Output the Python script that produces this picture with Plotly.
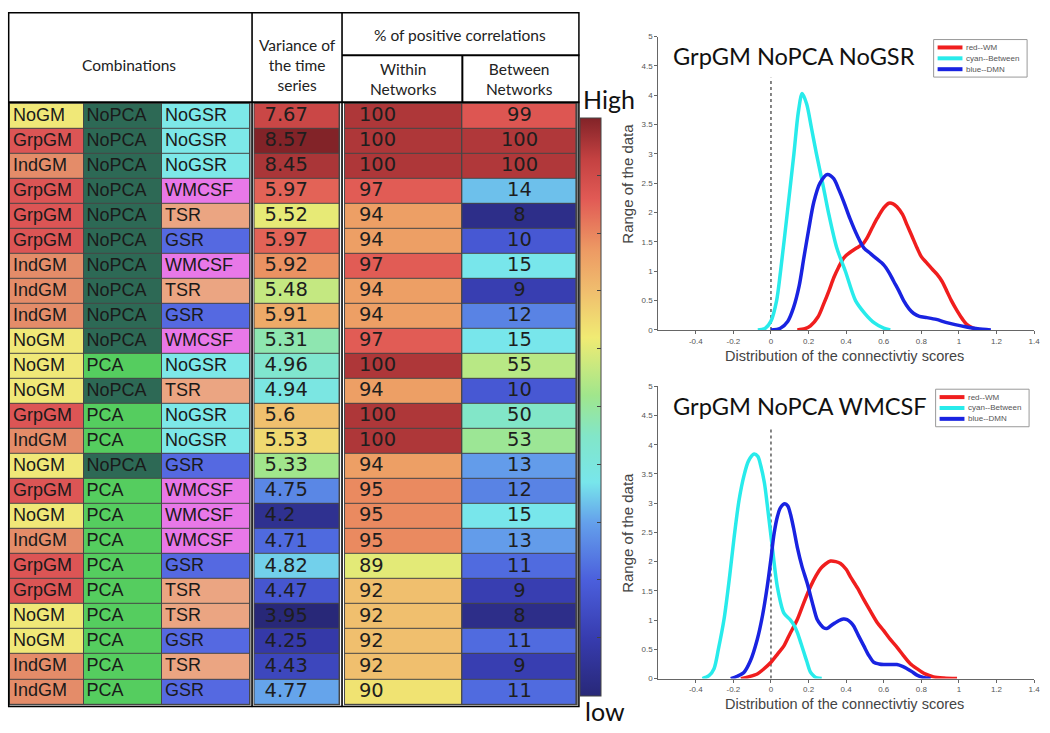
import numpy as np
import pandas as pd
import plotly.graph_objects as go

# ---------------- table data ----------------
gm = ["NoGM", "GrpGM", "IndGM", "GrpGM", "GrpGM", "GrpGM", "IndGM", "IndGM", "IndGM", "NoGM", "NoGM", "NoGM",
      "GrpGM", "IndGM", "NoGM", "GrpGM", "NoGM", "IndGM", "GrpGM", "GrpGM", "NoGM", "NoGM", "IndGM", "IndGM"]
pca = ["NoPCA", "NoPCA", "NoPCA", "NoPCA", "NoPCA", "NoPCA", "NoPCA", "NoPCA", "NoPCA", "NoPCA", "PCA", "NoPCA",
       "PCA", "PCA", "NoPCA", "PCA", "PCA", "PCA", "PCA", "PCA", "PCA", "PCA", "PCA", "PCA"]
gsr = ["NoGSR", "NoGSR", "NoGSR", "WMCSF", "TSR", "GSR", "WMCSF", "TSR", "GSR", "WMCSF", "NoGSR", "TSR",
       "NoGSR", "NoGSR", "GSR", "WMCSF", "WMCSF", "WMCSF", "GSR", "TSR", "TSR", "GSR", "TSR", "GSR"]
variance = [7.67, 8.57, 8.45, 5.97, 5.52, 5.97, 5.92, 5.48, 5.91, 5.31, 4.96, 4.94,
            5.6, 5.53, 5.33, 4.75, 4.2, 4.71, 4.82, 4.47, 3.95, 4.25, 4.43, 4.77]
within = [100, 100, 100, 97, 94, 94, 97, 94, 94, 97, 100, 94,
          100, 100, 94, 95, 95, 95, 89, 92, 92, 92, 92, 90]
between = [99, 100, 100, 14, 8, 10, 15, 9, 12, 15, 55, 10,
           50, 53, 13, 12, 15, 13, 11, 9, 8, 11, 9, 11]

# ---------------- density curves ----------------
# top panel: GrpGM NoPCA NoGSR
t_red_x = [0.14, 0.18, 0.21, 0.25, 0.28, 0.31, 0.334, 0.36, 0.388, 0.42, 0.458, 0.49, 0.51, 0.54, 0.565, 0.6, 0.627,
           0.65, 0.67, 0.7, 0.724, 0.75, 0.777, 0.8, 0.83, 0.86, 0.883, 0.91, 0.936, 0.96, 0.99, 1.02, 1.04, 1.07, 1.11]
t_red_y = [0, 0.02, 0.07, 0.22, 0.44, 0.68, 0.89, 1.07, 1.23, 1.32, 1.4, 1.47, 1.56, 1.75, 1.9, 2.08, 2.16,
           2.15, 2.1, 1.97, 1.79, 1.6, 1.4, 1.25, 1.14, 1.03, 0.95, 0.83, 0.66, 0.5, 0.33, 0.18, 0.1, 0.04, 0]
t_cyan_x = [-0.07, -0.03, 0.0, 0.03, 0.051, 0.087, 0.122, 0.145, 0.166, 0.19, 0.215, 0.242, 0.275, 0.306,
            0.35, 0.396, 0.45, 0.5, 0.55, 0.6, 0.635]
t_cyan_y = [0, 0.03, 0.15, 0.5, 1.0, 2.0, 3.0, 3.7, 4.03, 3.85, 3.45, 3.0, 2.5, 2.0,
            1.4, 1.0, 0.5, 0.28, 0.12, 0.03, 0]
t_blue_x = [0.0, 0.05, 0.09, 0.12, 0.15, 0.175, 0.2, 0.228, 0.26, 0.3, 0.334, 0.36, 0.388, 0.42, 0.46, 0.494, 0.53,
            0.56, 0.6, 0.63, 0.653, 0.68, 0.706, 0.735, 0.76, 0.79, 0.83, 0.88, 0.93, 0.98, 1.04, 1.1, 1.17]
t_blue_y = [0, 0.03, 0.15, 0.38, 0.75, 1.23, 1.7, 2.18, 2.5, 2.65, 2.58, 2.4, 2.18, 1.9, 1.6, 1.4, 1.3,
            1.22, 1.11, 0.97, 0.83, 0.67, 0.5, 0.36, 0.28, 0.23, 0.21, 0.18, 0.13, 0.09, 0.05, 0.02, 0]

# bottom panel: GrpGM NoPCA WMCSF
b_red_x = [-0.16, -0.12, -0.073, -0.04, 0.0, 0.035, 0.069, 0.1, 0.14, 0.175, 0.21, 0.24, 0.264, 0.29, 0.317, 0.345,
           0.37, 0.4, 0.423, 0.46, 0.494, 0.53, 0.565, 0.6, 0.635, 0.67, 0.706, 0.74, 0.777, 0.82, 0.865, 0.92, 0.99]
b_red_y = [0, 0.03, 0.08, 0.16, 0.28, 0.42, 0.56, 0.76, 1.01, 1.3, 1.57, 1.76, 1.88, 1.96, 2.01, 2.0,
           1.97, 1.87, 1.74, 1.55, 1.35, 1.15, 0.96, 0.82, 0.67, 0.54, 0.39, 0.26, 0.17, 0.08, 0.03, 0.01, 0]
b_cyan_x = [-0.365, -0.33, -0.303, -0.28, -0.25, -0.22, -0.196, -0.17, -0.143, -0.12, -0.09, -0.07, -0.055, -0.035,
            -0.02, 0.007, 0.034, 0.069, 0.104, 0.125, 0.14, 0.16, 0.175, 0.19, 0.21, 0.23, 0.246, 0.27]
b_cyan_y = [0, 0.05, 0.17, 0.5, 1.01, 1.75, 2.42, 3.05, 3.48, 3.72, 3.84, 3.8, 3.65, 3.35,
            2.98, 2.25, 1.57, 1.12, 1.0, 0.9, 0.79, 0.6, 0.45, 0.3, 0.11, 0.04, 0.01, 0]
b_blue_x = [-0.214, -0.18, -0.143, -0.11, -0.073, -0.045, -0.02, 0.0, 0.016, 0.035, 0.05, 0.074, 0.09, 0.104, 0.12,
            0.14, 0.165, 0.193, 0.22, 0.246, 0.265, 0.28, 0.3, 0.317, 0.34, 0.36, 0.385, 0.405, 0.425, 0.44, 0.465,
            0.494, 0.52, 0.547, 0.575, 0.6, 0.635, 0.67, 0.7, 0.724, 0.75, 0.777, 0.81, 0.85]
b_blue_y = [0, 0.04, 0.11, 0.3, 0.67, 1.08, 1.57, 2.05, 2.47, 2.78, 2.92, 2.99, 2.95, 2.81, 2.58,
            2.25, 1.92, 1.63, 1.3, 1.01, 0.92, 0.87, 0.86, 0.9, 0.95, 0.99, 1.02, 1.01, 0.96, 0.9, 0.74,
            0.56, 0.4, 0.28, 0.25, 0.24, 0.24, 0.24, 0.21, 0.17, 0.12, 0.06, 0.02, 0]
zero_line_top = 4.3

legend_names = ["red--WM", "cyan--Between", "blue--DMN"]
panel_titles = ["GrpGM NoPCA NoGSR", "GrpGM NoPCA WMCSF"]

# ---------------- styling ----------------
W, H = 1050, 733


def fx(p):
    return p / W


def fy(p):
    return 1 - p / H


jet = [[0.00, "rgb(40,40,120)"], [0.10, "rgb(55,60,175)"], [0.20, "rgb(75,95,220)"],
       [0.30, "rgb(100,160,235)"], [0.37, "rgb(120,230,235)"], [0.45, "rgb(130,230,200)"],
       [0.52, "rgb(160,230,140)"], [0.62, "rgb(240,235,115)"], [0.70, "rgb(240,190,110)"],
       [0.77, "rgb(237,155,100)"], [0.86, "rgb(225,90,85)"], [0.93, "rgb(195,65,65)"],
       [1.00, "rgb(130,35,40)"]]

cat_order = ["NoGM", "GrpGM", "IndGM", "NoPCA", "PCA", "NoGSR", "WMCSF", "TSR", "GSR"]
cat_colors = ["rgb(240,232,120)", "rgb(220,85,85)", "rgb(228,140,105)", "rgb(45,105,85)", "rgb(85,205,95)",
              "rgb(125,232,232)", "rgb(232,120,232)", "rgb(235,165,130)", "rgb(85,105,225)"]
cat_scale = []
for i, c in enumerate(cat_colors):
    cat_scale += [[i / len(cat_colors), c], [(i + 1) / len(cat_colors), c]]

# table geometry (pixel units on the table axes)
n = len(gm)
row_top, row_bot = 101, 709
row_edges = list(np.linspace(row_top, row_bot, n + 1))
row_mid = [(a + b) / 2 for a, b in zip(row_edges[:-1], row_edges[1:])]
cat_edges = [10, 84, 163, 251]
var_edges = [256, 341]
win_edges = [347, 465]
btw_edges = [465, 580]

# colour levels for numeric columns
var_lvl = ((pd.Series(variance).rank(method="average") - 1) / (n - 1)).tolist()
win_lvl = [(v - 70) / 31.5 for v in within]
btw_lvl = list(np.interp(between, [8, 10, 15, 50, 55, 99, 100], [0.03, 0.18, 0.37, 0.45, 0.55, 0.87, 0.95]))

fig = go.Figure()

cat_z = [[cat_order.index(a), cat_order.index(b), cat_order.index(c)] for a, b, c in zip(gm, pca, gsr)]
fig.add_trace(go.Heatmap(x=cat_edges, y=row_edges, z=cat_z, colorscale=cat_scale, zmin=-0.5, zmax=8.5,
                         showscale=False, xgap=1, ygap=1, hoverinfo="skip"))
for edges, lvl in [(var_edges, var_lvl), (win_edges, win_lvl), (btw_edges, btw_lvl)]:
    fig.add_trace(go.Heatmap(x=edges, y=row_edges, z=[[v] for v in lvl], coloraxis="coloraxis",
                             xgap=1, ygap=1, hoverinfo="skip"))

cat_font = dict(family="Liberation Sans, Arial", size=18, color="#1a1a1a")
num_font = dict(family="DejaVu Sans", size=19.5, color="#1e1e1e")
for col, left in zip([gm, pca, gsr], cat_edges[:-1]):
    fig.add_trace(go.Scatter(x=[left + 3] * n, y=row_mid, text=col, mode="text", textposition="middle right",
                             textfont=cat_font, cliponaxis=False, hoverinfo="skip", showlegend=False))
fig.add_trace(go.Scatter(x=[var_edges[0] + 10] * n, y=row_mid, text=[str(v) for v in variance], mode="text",
                         textposition="middle right", textfont=num_font, cliponaxis=False,
                         hoverinfo="skip", showlegend=False))
fig.add_trace(go.Scatter(x=[win_edges[0] + 14] * n, y=row_mid, text=[str(v) for v in within], mode="text",
                         textposition="middle right", textfont=num_font, cliponaxis=False,
                         hoverinfo="skip", showlegend=False))
fig.add_trace(go.Scatter(x=[(btw_edges[0] + btw_edges[1]) / 2] * n, y=row_mid, text=[str(v) for v in between],
                         mode="text", textposition="middle center", textfont=num_font, cliponaxis=False,
                         hoverinfo="skip", showlegend=False))

# ---------------- density panels ----------------
line_colors = ["rgb(240,30,30)", "rgb(40,235,235)", "rgb(25,35,225)"]
panels = [
    ("x2", "y2", [(t_red_x, t_red_y), (t_cyan_x, t_cyan_y), (t_blue_x, t_blue_y)]),
    ("x3", "y3", [(b_red_x, b_red_y), (b_cyan_x, b_cyan_y), (b_blue_x, b_blue_y)]),
]
for xa, ya, curves in panels:
    fig.add_trace(go.Scatter(x=[0, 0], y=[0, zero_line_top], mode="lines", xaxis=xa, yaxis=ya,
                             line=dict(color="#666", width=1.6, dash="dot"), showlegend=False, hoverinfo="skip"))
    for (cx, cy), name, c in zip(curves, legend_names, line_colors):
        fig.add_trace(go.Scatter(x=cx, y=cy, name=name, mode="lines", xaxis=xa, yaxis=ya, showlegend=False,
                                 line=dict(color=c, width=3.5, shape="spline", smoothing=0.8)))

xtick_vals = [-0.4, -0.2, 0, 0.2, 0.4, 0.6, 0.8, 1, 1.2, 1.4]
xtick_text = ["-0.4", "-0.2", "0", "0.2", "0.4", "0.6", "0.8", "1", "1.2", "1.4"]
ytick_vals = [0, 0.5, 1, 1.5, 2, 2.5, 3, 3.5, 4, 4.5, 5]
axis_style = dict(showline=True, linecolor="#666", linewidth=1, ticks="outside", ticklen=3, tickcolor="#666",
                  showgrid=False, zeroline=False, ticklabeloverflow="allow",
                  tickfont=dict(family="Liberation Sans, Arial", size=8, color="#555"))

top_px = [(33, 330), (387, 683)]
layout_axes = {}
for k, (t, b) in zip([2, 3], top_px):
    layout_axes[f"xaxis{k}"] = dict(domain=[fx(662), fx(1040)], range=[-0.6, 1.4], anchor=f"y{k}",
                                    tickvals=xtick_vals, ticktext=xtick_text, **axis_style)
    layout_axes[f"yaxis{k}"] = dict(domain=[fy(b), fy(t)], range=[0, 5], anchor=f"x{k}",
                                    tickvals=ytick_vals, **axis_style)

shapes = []
line_k = dict(color="black", width=2)
# header lines and column dividers
shapes.append(dict(type="line", xref="x", yref="y", x0=8, x1=583, y0=99.5, y1=99.5, line=line_k))
shapes.append(dict(type="line", xref="x", yref="y", x0=344, x1=583, y0=52, y1=52, line=line_k))
shapes.append(dict(type="line", xref="x", yref="y", x0=465, x1=465, y0=52, y1=99.5, line=line_k))
for xv in [253.5, 344]:
    shapes.append(dict(type="line", xref="x", yref="y", x0=xv, x1=xv, y0=8, y1=712,
                       line=dict(color="black", width=1.6)))
# dark grid behind the cells
for x0, x1 in [(cat_edges[0], cat_edges[-1]), (var_edges[0], var_edges[1]), (win_edges[0], btw_edges[1])]:
    shapes.append(dict(type="rect", xref="x", yref="y", x0=x0 - 1, x1=x1 + 1, y0=row_top - 1, y1=row_bot + 1,
                       fillcolor="rgb(70,70,70)", line=dict(width=0), layer="below"))
# outer frame
shapes.append(dict(type="rect", xref="x", yref="y", x0=8, x1=583, y0=8, y1=712,
                   line=dict(color="black", width=3)))

hdr_font = dict(family="Lato", size=15.5, color="#222")
annotations = [
    dict(x=130, y=62, text="Combinations"),
    dict(x=299, y=62, text="Variance of<br>the time<br>series"),
    dict(x=463, y=31, text="% of positive correlations"),
    dict(x=406, y=76, text="Within<br>Networks"),
    dict(x=522, y=76, text="Between<br>Networks"),
]
for a in annotations:
    a.update(xref="x", yref="y", showarrow=False, font=hdr_font, align="center")
n_tbl_ann = len(annotations)

big_font = dict(family="Lato", size=25, color="#111")
annotations += [
    dict(x=fx(584), y=fy(96), text="High", xanchor="left", yanchor="middle", font=big_font),
    dict(x=fx(586), y=fy(716), text="low", xanchor="left", yanchor="middle", font=big_font),
]
leg_font = dict(family="Liberation Sans, Arial", size=8, color="#555")
for title, (t, b), leg_top, leg_left in zip(panel_titles, top_px, [36, 390], [939, 941]):
    annotations.append(dict(x=fx(675), y=fy(t + 20), text=title, xanchor="left", yanchor="middle",
                            font=dict(family="Lato", size=23.6, color="#111")))
    annotations.append(dict(x=fx(631), y=fy((t + b) / 2), text="Range of the data", textangle=-90,
                            xanchor="center", yanchor="middle",
                            font=dict(family="Liberation Sans, Arial", size=15, color="#444")))
    annotations.append(dict(x=fx(849), y=fy(b + 26), text="Distribution of the connectivtiy scores",
                            xanchor="center", yanchor="middle",
                            font=dict(family="Liberation Sans, Arial", size=14.5, color="#444")))
    # compact matlab-style legend box
    shapes.append(dict(type="rect", xref="paper", yref="paper", x0=fx(leg_left), x1=fx(leg_left + 94),
                       y0=fy(leg_top + 38), y1=fy(leg_top), fillcolor="white",
                       line=dict(color="#999", width=1)))
    for j, (name, c) in enumerate(zip(legend_names, line_colors)):
        yy = leg_top + 8 + j * 11
        shapes.append(dict(type="line", xref="paper", yref="paper", x0=fx(leg_left + 4), x1=fx(leg_left + 29),
                           y0=fy(yy), y1=fy(yy), line=dict(color=c, width=4)))
        annotations.append(dict(x=fx(leg_left + 31), y=fy(yy), text=name, xanchor="left", yanchor="middle",
                                font=leg_font))
for a in annotations[n_tbl_ann:]:
    a.update(xref="paper", yref="paper", showarrow=False)

fig.update_layout(
    width=W, height=H, margin=dict(l=0, r=0, t=0, b=0),
    paper_bgcolor="white", plot_bgcolor="white", showlegend=False,
    xaxis=dict(domain=[fx(8), fx(583)], range=[8, 583], visible=False),
    yaxis=dict(domain=[fy(712), fy(8)], range=[712, 8], visible=False),
    coloraxis=dict(colorscale=jet, cmin=0, cmax=1,
                   colorbar=dict(x=fx(583), xanchor="left", y=fy(115), yanchor="top", len=(700 - 115) / H,
                                 thickness=21, xpad=0, ypad=0, outlinewidth=1, outlinecolor="#444",
                                 ticks="inside", ticklen=4, tickcolor="#444",
                                 tickvals=[0.1, 0.2, 0.3, 0.4, 0.5, 0.6, 0.7, 0.8, 0.9], showticklabels=False)),
    shapes=shapes, annotations=annotations,
    **layout_axes,
)

fig.write_html("out.html", config={"displayModeBar": False},
               post_script="document.body.style.margin='0';")
